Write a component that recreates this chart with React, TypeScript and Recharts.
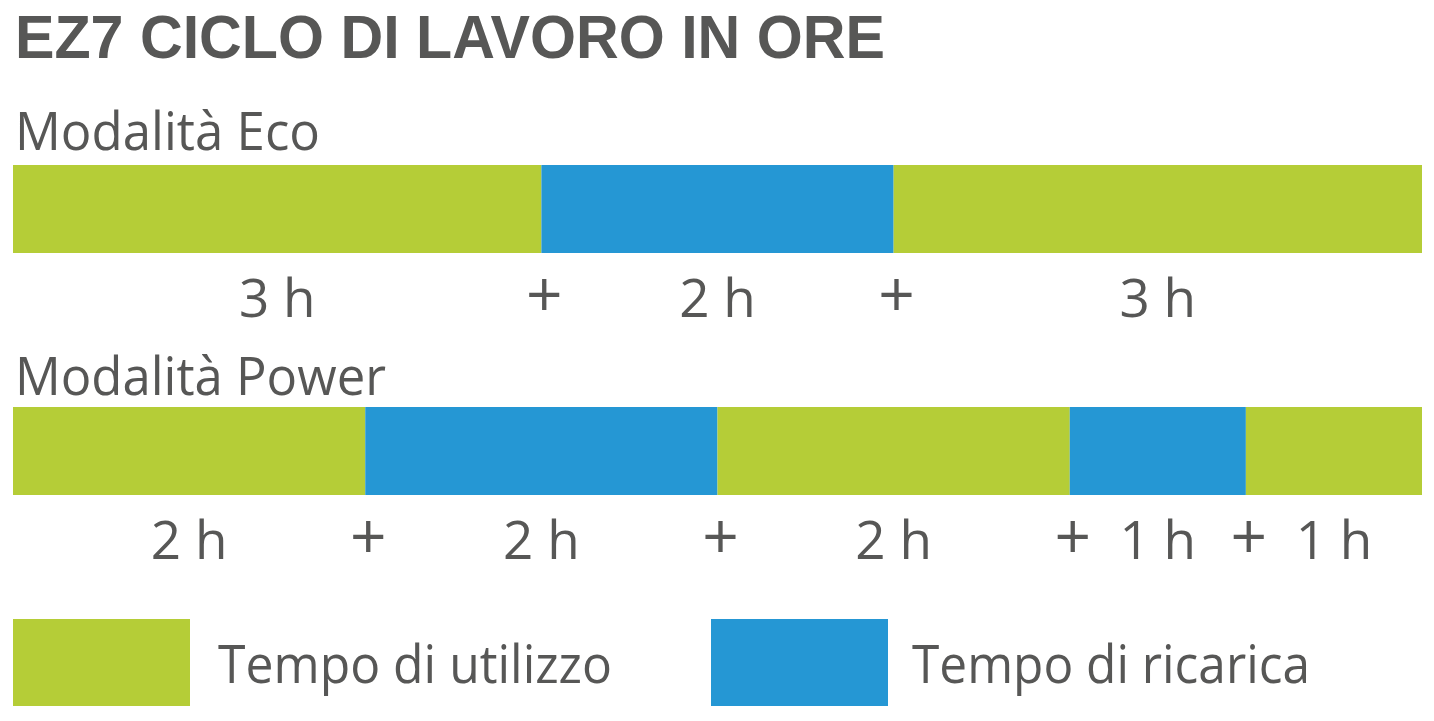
import React from 'react';
import { BarChart, Bar, XAxis, YAxis, LabelList } from 'recharts';

const GREEN = '#b5cd37';
const BLUE = '#2597d4';
const TEXT = '#575756';
const FONT = '"Open Sans", "Noto Sans", sans-serif';
const TITLE_FONT = '"Liberation Sans", Arial, sans-serif';

const title = 'EZ7 CICLO DI LAVORO IN ORE';
const modeNames = ['Modalità Eco', 'Modalità Power'];
const ecoHours = [3, 2, 3];
const powerHours = [2, 2, 2, 1, 1];
const segmentKeys = ['s0', 's1', 's2', 's3', 's4'];
const legendLabels = ['Tempo di utilizzo', 'Tempo di ricarica'];
const legendColors = [GREEN, BLUE];
const totalHours = 8;

const BAR_H = 88;
const CHART_W = 1409;
const LABEL_SPACE = 100;

function ModeBar({ name, hours, top }: { name: string; hours: number[]; top: number }) {
  const row: Record<string, any> = { name };
  segmentKeys.forEach((k, i) => {
    row[k] = hours[i] ?? 0;
  });

  const labelFor = (i: number) => (props: any) => {
    const x = Number(props.x);
    const y = Number(props.y);
    const w = Number(props.width);
    if (!props.value) return null;
    const last = i === hours.length - 1;
    return (
      <g>
        <text x={x + w / 2} y={y + 152} textAnchor="middle" fill={TEXT} fontSize={53} fontFamily={FONT}>
          {props.value} h
        </text>
        {!last && (
          <text x={x + w + 3} y={y + 152} textAnchor="middle" fill={TEXT} fontSize={64} fontFamily={FONT}>
            +
          </text>
        )}
      </g>
    );
  };

  return (
    <div style={{ position: 'absolute', left: 13, top }}>
      <BarChart
        width={CHART_W}
        height={BAR_H + LABEL_SPACE}
        data={[row]}
        layout="vertical"
        margin={{ top: 0, right: 0, bottom: LABEL_SPACE, left: 0 }}
        barCategoryGap="0%"
        barGap={0}
      >
        <XAxis type="number" domain={[0, totalHours]} hide />
        <YAxis type="category" dataKey="name" hide />
        {segmentKeys.map((k, i) => (
          <Bar
            key={k}
            dataKey={k}
            stackId="a"
            fill={i % 2 === 0 ? GREEN : BLUE}
            isAnimationActive={false}
          >
            <LabelList dataKey={k} content={labelFor(i)} />
          </Bar>
        ))}
      </BarChart>
    </div>
  );
}

export default function App() {
  return (
    <div style={{ position: 'absolute', left: 0, top: 0, width: 1434, height: 721, background: '#fff', overflow: 'hidden' }}>
      <svg width={1434} height={721} style={{ position: 'absolute', left: 0, top: 0 }}>
        <text x={15} y={58} fill={TEXT} fontSize={62} fontWeight={700} fontFamily={TITLE_FONT} textLength={870} lengthAdjust="spacingAndGlyphs">
          {title}
        </text>
        <text x={15} y={150} fill={TEXT} fontSize={53} fontFamily={FONT} textLength={305} lengthAdjust="spacingAndGlyphs">
          {modeNames[0]}
        </text>
        <text x={15} y={395} fill={TEXT} fontSize={53} fontFamily={FONT} textLength={371} lengthAdjust="spacingAndGlyphs">
          {modeNames[1]}
        </text>
        {legendLabels.map((lab, i) => (
          <g key={lab}>
            <rect x={13 + i * 698} y={619} width={177} height={87} fill={legendColors[i]} />
            <text
              x={218 + i * 694}
              y={683}
              fill={TEXT}
              fontSize={53}
              fontFamily={FONT}
              textLength={i === 0 ? 394 : 398}
              lengthAdjust="spacingAndGlyphs"
            >
              {lab}
            </text>
          </g>
        ))}
      </svg>
      <ModeBar name={modeNames[0]} hours={ecoHours} top={165} />
      <ModeBar name={modeNames[1]} hours={powerHours} top={407} />
    </div>
  );
}
